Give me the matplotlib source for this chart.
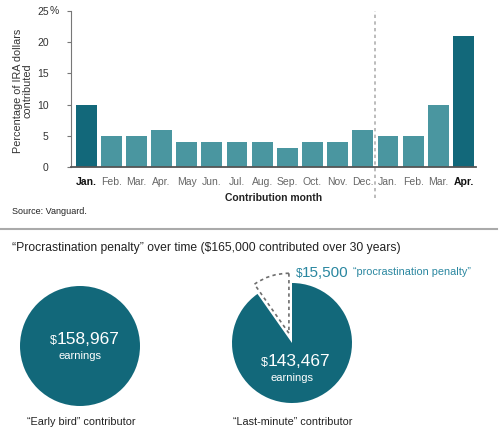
import numpy as np
import matplotlib
matplotlib.use("Agg")
import matplotlib.pyplot as plt
from matplotlib.lines import Line2D

plt.rcParams['font.family'] = ['Liberation Sans', 'DejaVu Sans']

# data
months = ['Jan.', 'Feb.', 'Mar.', 'Apr.', 'May', 'Jun.', 'Jul.', 'Aug.', 'Sep.',
          'Oct.', 'Nov.', 'Dec.', 'Jan.', 'Feb.', 'Mar.', 'Apr.']
pct = [10, 5, 5, 6, 4, 4, 4, 4, 3, 4, 4, 6, 5, 5, 10, 21]
highlight = [0, 15]
yticks = [0, 5, 10, 15, 20, 25]
early_earnings = 158967
late_earnings = 143467
penalty = 15500

DARK = '#12687A'
LIGHT = '#4A96A0'
PEN = '#2A87A0'
W, H = 500, 438

def fx(x):
    return x / W

def fy(y):
    return 1 - y / H

fig = plt.figure(figsize=(5, 4.38), dpi=100)

# bar chart
ax = fig.add_axes([fx(71), fy(167), fx(476) - fx(71), fy(11) - fy(167)])
x = np.arange(len(months))
colors = [DARK if i in highlight else LIGHT for i in range(len(months))]
ax.bar(x, pct, width=0.83, color=colors)
ax.set_xlim(-0.6, 15.5)
ax.set_ylim(0, 25)
ax.set_yticks(yticks)
ax.set_yticklabels([str(t) for t in yticks])
ax.set_xticks(x)
ax.set_xticklabels(months)
for i, lab in enumerate(ax.get_xticklabels()):
    if i in highlight:
        lab.set_fontweight('bold')
        lab.set_color('#111111')
    else:
        lab.set_color('#666666')
ax.tick_params(axis='x', length=0, pad=7, labelsize=7.5)
ax.tick_params(axis='y', length=3, width=0.8, color='#777777', pad=13,
               labelsize=7.5, labelcolor='#333333')
for s in ['top', 'right']:
    ax.spines[s].set_visible(False)
ax.spines['left'].set_color('#777777')
ax.spines['left'].set_linewidth(0.8)
ax.spines['bottom'].set_color('#555555')
ax.spines['bottom'].set_linewidth(1.3)
ax.axvline(11.5, ymin=-0.2, ymax=1.0, clip_on=False, color='#B0B0B0',
           lw=1.2, ls=(0, (2, 2)))
fig.text(fx(49.5), fy(11), '%', fontsize=7.5, color='#333333', ha='left', va='center')
fig.text(fx(23), fy(91), 'Percentage of IRA dollars\ncontributed', rotation=90,
         ha='center', va='center', multialignment='center', fontsize=7.8,
         color='#333333', linespacing=0.95)
fig.text(fx(274), fy(198), 'Contribution month', ha='center', va='center',
         fontsize=7.5, fontweight='bold', color='#222222')
fig.text(fx(12), fy(211), 'Source: Vanguard.', ha='left', va='center',
         fontsize=6.5, color='#222222')

# separator
fig.add_artist(Line2D([0, fx(497)], [fy(229), fy(229)], color='#AAAAAA', lw=1.5))

fig.text(fx(12), fy(248),
         '\u201cProcrastination penalty\u201d over time ($165,000 contributed over 30 years)',
         ha='left', va='center', fontsize=8.7, color='#222222')

# left pie
r = 60
axl = fig.add_axes([fx(80 - r), fy(346 + r), fx(2 * r), fx(2 * r) * W / H])
axl.pie([early_earnings], colors=[DARK], radius=1, startangle=90)
axl.set_xlim(-1, 1)
axl.set_ylim(-1, 1)
axl.set_aspect('equal')
axl.axis('off')

# right pie
m = 1.3
axr = fig.add_axes([fx(292 - m * r), fy(343 + m * r), fx(2 * m * r), fx(2 * m * r) * W / H])
wedges, _ = axr.pie([penalty, late_earnings], colors=['white', DARK], radius=1,
                    startangle=90, counterclock=True, explode=[0.17, 0])
wedges[0].set_edgecolor('#6E6E6E')
wedges[0].set_linestyle((0, (2, 2)))
wedges[0].set_linewidth(1.2)
axr.set_xlim(-m, m)
axr.set_ylim(-m, m)
axr.set_aspect('equal')
axr.axis('off')

# pie labels
def money(xpos, ypos, value, big, small, color):
    fig.text(fx(xpos), fy(ypos), '{:,}'.format(value), ha='left', va='baseline',
             fontsize=big, color=color)
    fig.text(fx(xpos), fy(ypos), '$', ha='right', va='baseline',
             fontsize=small, color=color)

money(57, 344, early_earnings, 12.5, 9, 'white')
fig.text(fx(80), fy(356), 'earnings', ha='center', va='center', fontsize=8, color='white')
money(268, 366, late_earnings, 12.5, 9, 'white')
fig.text(fx(292), fy(378), 'earnings', ha='center', va='center', fontsize=8, color='white')
money(302, 277, penalty, 11, 8.5, PEN)
fig.text(fx(353), fy(272), '\u201cprocrastination penalty\u201d', ha='left', va='center',
         fontsize=7.8, color=PEN)

fig.text(fx(27), fy(422), '\u201cEarly bird\u201d contributor', ha='left', va='center',
         fontsize=7.8, color='#222222')
fig.text(fx(233), fy(422), '\u201cLast-minute\u201d contributor', ha='left', va='center',
         fontsize=7.8, color='#222222')

fig.savefig('out.png', dpi=100)
